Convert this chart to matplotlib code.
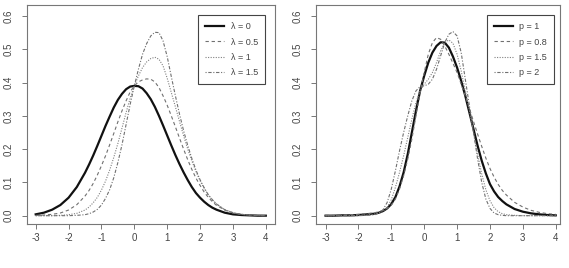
import numpy as np
import matplotlib
matplotlib.use('Agg')
import matplotlib.pyplot as plt

plt.rcParams['font.family'] = ['Liberation Sans', 'DejaVu Sans']

# x grid shared by all curves (finer in the middle where the curves bend)
x_grid = [-3, -2.75, -2.5, -2.25, -2, -1.75,
          -1.5, -1.375, -1.25, -1.125, -1, -0.875, -0.75, -0.625, -0.5, -0.375, -0.25, -0.125, 0,
          0.125, 0.25, 0.375, 0.5, 0.625, 0.75, 0.875, 1, 1.125, 1.25, 1.375, 1.5, 1.625, 1.75,
          1.875, 2, 2.125, 2.25, 2.375, 2.5,
          2.75, 3, 3.25, 3.5, 3.75, 4]

# left panel: lambda curves
lam_0 = [.004, .009, .018, .032, .054, .086,
         .129, .154, .181, .21, .24, .27, .298, .325, .348, .366, .38, .388, .39,
         .389, .382, .368, .35, .327, .3, .271, .241, .211, .182, .155, .13, .107, .086, .068, .054, .042, .032, .024, .018,
         .009, .004, .002, .001, 0, 0]
lam_05 = [.001, .002, .004, .008, .017, .033,
          .059, .076, .097, .122, .15, .18, .213, .247, .282, .315, .345, .372, .39,
          .402, .408, .411, .41, .402, .385, .36, .332, .3, .267, .233, .2, .168, .139, .113, .091, .071, .055, .042, .031,
          .017, .008, .004, .002, .001, 0]
lam_1 = [0, 0, 0, .001, .003, .007,
         .017, .026, .039, .055, .077, .104, .137, .175, .217, .263, .31, .353, .39,
         .42, .445, .462, .472, .476, .47, .45, .413, .37, .327, .283, .24, .2, .165, .133, .105, .082, .062, .047, .035,
         .018, .009, .004, .002, .001, 0]
lam_15 = [0, 0, 0, 0, 0, .001,
          .003, .006, .011, .019, .032, .052, .078, .114, .16, .213, .274, .335, .39,
          .44, .485, .517, .54, .551, .55, .525, .478, .418, .36, .305, .255, .211, .172, .137, .108, .084, .063, .048, .035,
          .018, .009, .004, .002, .001, 0]
lam_labels = ['λ = 0', 'λ = 0.5', 'λ = 1', 'λ = 1.5']

# right panel: p curves
p_1 = [0, 0, .001, .001, .002, .004,
       .006, .009, .014, .022, .035, .056, .088, .13, .185, .25, .315, .375, .42,
       .46, .49, .51, .521, .52, .505, .478, .445, .405, .36, .31, .26, .21, .165, .127, .095, .073, .056, .044, .034,
       .02, .012, .007, .004, .002, .001]
p_08 = [.001, .001, .002, .003, .004, .006,
        .009, .012, .016, .022, .032, .05, .08, .12, .17, .23, .3, .37, .43,
        .485, .52, .535, .53, .51, .485, .458, .43, .395, .36, .322, .283, .245, .208, .173, .142, .116, .094, .076, .062,
        .04, .026, .016, .01, .006, .004]
p_15 = [0, 0, 0, 0, .001, .002,
        .005, .008, .012, .025, .048, .085, .13, .18, .235, .29, .34, .375, .395,
        .41, .43, .46, .495, .52, .528, .518, .485, .435, .375, .315, .25, .185, .125, .078, .045, .024, .012, .006, .003,
        .001, 0, 0, 0, 0, 0]
p_2 = [0, 0, 0, 0, 0, .001,
       .003, .008, .018, .04, .08, .135, .195, .25, .3, .345, .375, .388, .39,
       .395, .41, .44, .48, .52, .545, .553, .54, .49, .41, .33, .25, .17, .1, .05, .022, .008, .003, .001, 0,
       0, 0, 0, 0, 0, 0]
p_labels = ['p = 1', 'p = 0.8', 'p = 1.5', 'p = 2']

x_ticks = [-3, -2, -1, 0, 1, 2, 3, 4]
y_ticks = [0.0, 0.1, 0.2, 0.3, 0.4, 0.5, 0.6]

# R style lines: solid thick, dashed, dotted, dotdash
styles = [dict(color='#111111', lw=1.6, ls='-'),
          dict(color='#707070', lw=0.8, ls=(0, (3, 2.5))),
          dict(color='#808080', lw=0.8, ls=(0, (1, 1.3))),
          dict(color='#707070', lw=0.8, ls=(0, (1, 1.5, 3, 1.5)))]

fig = plt.figure(figsize=(5.69, 2.68), dpi=100)
ax1 = fig.add_axes([26.5 / 569, 44 / 268, 248.5 / 569, 219 / 268])
ax2 = fig.add_axes([316 / 569, 44 / 268, 244 / 569, 219 / 268])

def draw_panel(ax, series, labels, xlim, anchor):
    for ys, st, lab in zip(series, styles, labels):
        ax.plot(x_grid, ys, label=lab, **st)
    ax.set_xlim(*xlim)
    ax.set_ylim(-0.025, 0.633)
    ax.set_xticks(x_ticks)
    ax.set_xticklabels([str(t) for t in x_ticks])
    ax.set_yticks(y_ticks)
    ax.set_yticklabels(['%.1f' % t for t in y_ticks], rotation=90, va='center')
    ax.tick_params(axis='both', direction='out', length=3.5, width=0.7,
                   colors='#777777', labelcolor='#444444', labelsize=7)
    ax.tick_params(axis='x', pad=3)
    ax.tick_params(axis='y', pad=6)
    for sp in ax.spines.values():
        sp.set_color('#777777')
        sp.set_linewidth(0.8)
    leg = ax.legend(loc='upper right', bbox_to_anchor=anchor, borderaxespad=0,
                    fancybox=False, framealpha=1, edgecolor='#444444',
                    fontsize=6.5, handlelength=2.1, handletextpad=0.7,
                    labelspacing=0.7, borderpad=0.8)
    leg.get_frame().set_linewidth(0.8)
    for t in leg.get_texts():
        t.set_color('#444444')

draw_panel(ax1, [lam_0, lam_05, lam_1, lam_15], lam_labels, (-3.28, 4.28), (0.96, 0.954))
draw_panel(ax2, [p_1, p_08, p_15, p_2], p_labels, (-3.29, 4.13), (0.977, 0.954))

fig.savefig('out.png', dpi=100)
